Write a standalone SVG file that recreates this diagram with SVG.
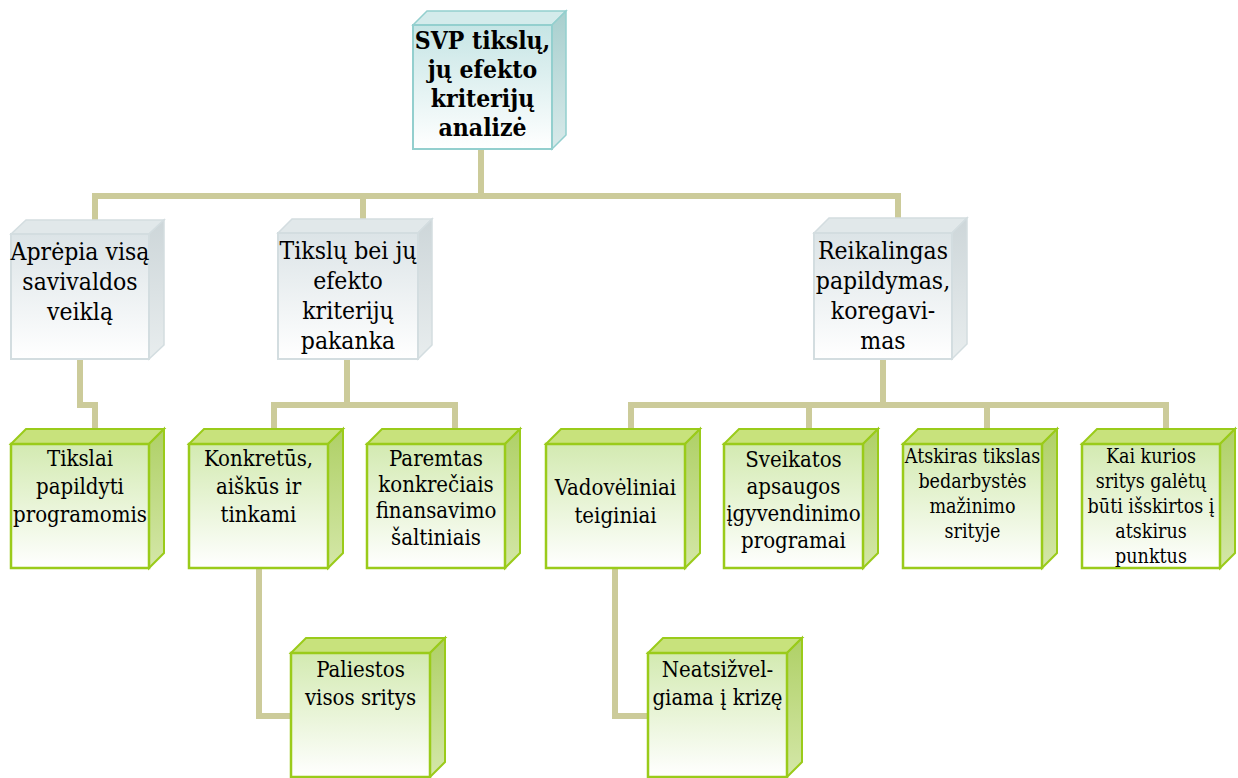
<svg xmlns="http://www.w3.org/2000/svg" width="1238" height="778" viewBox="0 0 1238 778">
  <defs>
    <linearGradient id="gFrontCyan" x1="0" y1="0" x2="0" y2="1">
      <stop offset="0" stop-color="#c6e5e5"/>
      <stop offset="1" stop-color="#ffffff"/>
    </linearGradient>
    <linearGradient id="gSideCyan" x1="0" y1="0" x2="0" y2="1">
      <stop offset="0" stop-color="#a8cfce"/>
      <stop offset="1" stop-color="#d8eaea"/>
    </linearGradient>
    <linearGradient id="gFrontGray" x1="0" y1="0" x2="0" y2="1">
      <stop offset="0" stop-color="#dce4e7"/>
      <stop offset="1" stop-color="#ffffff"/>
    </linearGradient>
    <linearGradient id="gSideGray" x1="0" y1="0" x2="0" y2="1">
      <stop offset="0" stop-color="#cdd6d9"/>
      <stop offset="1" stop-color="#e8edee"/>
    </linearGradient>
    <linearGradient id="gFrontGreen" x1="0" y1="0" x2="0" y2="1">
      <stop offset="0" stop-color="#d3eab1"/>
      <stop offset="1" stop-color="#ffffff"/>
    </linearGradient>
    <linearGradient id="gSideGreen" x1="0" y1="0" x2="0" y2="1">
      <stop offset="0" stop-color="#afd066"/>
      <stop offset="1" stop-color="#d4e7a8"/>
    </linearGradient>
  </defs>
  <style>
    .wire { fill: none; stroke: #cccb9a; stroke-width: 6; stroke-linecap: square; stroke-linejoin: miter; }
    .cyan .front { fill: url(#gFrontCyan); stroke: #93cfce; stroke-width: 2; }
    .cyan .top { fill: #d4ebeb; stroke: #93cfce; stroke-width: 1.5; }
    .cyan .side { fill: url(#gSideCyan); stroke: #93cfce; stroke-width: 1.5; }
    .gray .front { fill: url(#gFrontGray); stroke: #d3dde0; stroke-width: 2; }
    .gray .top { fill: #e1e8ea; stroke: #d3dde0; stroke-width: 1.5; }
    .gray .side { fill: url(#gSideGray); stroke: #d3dde0; stroke-width: 1.5; }
    .green .front { fill: url(#gFrontGreen); stroke: #9acb1a; stroke-width: 2.5; }
    .green .top { fill: #c8e27c; stroke: #9acb1a; stroke-width: 2; }
    .green .side { fill: url(#gSideGreen); stroke: #9acb1a; stroke-width: 2; }
    .lbl { fill: #000; text-anchor: middle; font-stretch: condensed; }
  </style>

  <!-- connectors -->
  <g id="connectors">
    <path class="wire" d="M481 152 V196"/>
    <path class="wire" d="M95 196 H898"/>
    <path class="wire" d="M95 196 V219"/>
    <path class="wire" d="M363 196 V218"/>
    <path class="wire" d="M898 196 V218"/>
    <path class="wire" d="M80 361 V405 H95 V428"/>
    <path class="wire" d="M347 361 V405"/>
    <path class="wire" d="M274 405 H455"/>
    <path class="wire" d="M274 405 V428"/>
    <path class="wire" d="M455 405 V428"/>
    <path class="wire" d="M883 361 V405"/>
    <path class="wire" d="M631 405 H1166"/>
    <path class="wire" d="M631 405 V428"/>
    <path class="wire" d="M809 405 V428"/>
    <path class="wire" d="M987 405 V428"/>
    <path class="wire" d="M1166 405 V428"/>
    <path class="wire" d="M259 570 V716 H290"/>
    <path class="wire" d="M615 570 V716 H647"/>
  </g>

  <g font-family="'DejaVu Serif Condensed', 'DejaVu Serif', serif">
  <!-- root -->
  <g id="root" class="cyan">
    <polygon class="top" points="413,25 427,11 566,11 552,25"/>
    <polygon class="side" points="552,25 566,11 566,135 552,149"/>
    <rect class="front" x="413" y="25" width="139" height="124"/>
    <text class="lbl" font-size="24.5" font-weight="bold"><tspan x="482.5" y="49">SVP tikslų,</tspan><tspan x="482.5" y="78">jų efekto</tspan><tspan x="482.5" y="107">kriterijų</tspan><tspan x="482.5" y="136">analizė</tspan></text>
  </g>

  <!-- second level -->
  <g id="n-apima" class="gray">
    <polygon class="top" points="11,234 26,220 164,220 149,234"/>
    <polygon class="side" points="149,234 164,220 164,345 149,359"/>
    <rect class="front" x="11" y="234" width="138" height="125"/>
    <text class="lbl" font-size="24.5"><tspan x="80" y="260">Aprėpia visą</tspan><tspan x="80" y="290">savivaldos</tspan><tspan x="80" y="320">veiklą</tspan></text>
  </g>

  <g id="n-pakanka" class="gray">
    <polygon class="top" points="278,233 292,219 432,219 418,233"/>
    <polygon class="side" points="418,233 432,219 432,345 418,359"/>
    <rect class="front" x="278" y="233" width="140" height="126"/>
    <text class="lbl" font-size="24.5"><tspan x="348" y="259">Tikslų bei jų</tspan><tspan x="348" y="289">efekto</tspan><tspan x="348" y="319">kriterijų</tspan><tspan x="348" y="349">pakanka</tspan></text>
  </g>

  <g id="n-reikalingas" class="gray">
    <polygon class="top" points="814,233 829,218 967,218 952,233"/>
    <polygon class="side" points="952,233 967,218 967,344 952,359"/>
    <rect class="front" x="814" y="233" width="138" height="126"/>
    <text class="lbl" font-size="24.5"><tspan x="883" y="259">Reikalingas</tspan><tspan x="883" y="289">papildymas,</tspan><tspan x="883" y="319">koregavi-</tspan><tspan x="883" y="349">mas</tspan></text>
  </g>

  <!-- third level -->
  <g id="n-tikslai" class="green">
    <polygon class="top" points="11,444 26,429 164,429 149,444"/>
    <polygon class="side" points="149,444 164,429 164,553 149,568"/>
    <rect class="front" x="11" y="444" width="138" height="124"/>
    <text class="lbl" font-size="22"><tspan x="80" y="466">Tikslai</tspan><tspan x="80" y="494">papildyti</tspan><tspan x="80" y="522">programomis</tspan></text>
  </g>

  <g id="n-konkretus" class="green">
    <polygon class="top" points="189,444 204,429 343,429 328,444"/>
    <polygon class="side" points="328,444 343,429 343,553 328,568"/>
    <rect class="front" x="189" y="444" width="139" height="124"/>
    <text class="lbl" font-size="22"><tspan x="258.5" y="466">Konkretūs,</tspan><tspan x="258.5" y="494">aiškūs ir</tspan><tspan x="258.5" y="522">tinkami</tspan></text>
  </g>

  <g id="n-paremtas" class="green">
    <polygon class="top" points="367,444 382,429 520,429 505,444"/>
    <polygon class="side" points="505,444 520,429 520,553 505,568"/>
    <rect class="front" x="367" y="444" width="138" height="124"/>
    <text class="lbl" font-size="22"><tspan x="436" y="466">Paremtas</tspan><tspan x="436" y="492">konkrečiais</tspan><tspan x="436" y="518">finansavimo</tspan><tspan x="436" y="545">šaltiniais</tspan></text>
  </g>

  <g id="n-vadoveliniai" class="green">
    <polygon class="top" points="546,444 561,429 700,429 685,444"/>
    <polygon class="side" points="685,444 700,429 700,553 685,568"/>
    <rect class="front" x="546" y="444" width="139" height="124"/>
    <text class="lbl" font-size="22"><tspan x="615.5" y="495">Vadovėliniai</tspan><tspan x="615.5" y="523">teiginiai</tspan></text>
  </g>

  <g id="n-sveikatos" class="green">
    <polygon class="top" points="724,444 739,429 878,429 863,444"/>
    <polygon class="side" points="863,444 878,429 878,553 863,568"/>
    <rect class="front" x="724" y="444" width="139" height="124"/>
    <text class="lbl" font-size="22"><tspan x="793.5" y="467">Sveikatos</tspan><tspan x="793.5" y="494">apsaugos</tspan><tspan x="793.5" y="521">įgyvendinimo</tspan><tspan x="793.5" y="548">programai</tspan></text>
  </g>

  <g id="n-atskiras" class="green">
    <polygon class="top" points="903,444 918,429 1057,429 1042,444"/>
    <polygon class="side" points="1042,444 1057,429 1057,553 1042,568"/>
    <rect class="front" x="903" y="444" width="139" height="124"/>
    <text class="lbl" font-size="19.5"><tspan x="972.5" y="463">Atskiras tikslas</tspan><tspan x="972.5" y="488">bedarbystės</tspan><tspan x="972.5" y="513">mažinimo</tspan><tspan x="972.5" y="538">srityje</tspan></text>
  </g>

  <g id="n-kaikurios" class="green">
    <polygon class="top" points="1082,444 1097,429 1235,429 1220,444"/>
    <polygon class="side" points="1220,444 1235,429 1235,553 1220,568"/>
    <rect class="front" x="1082" y="444" width="138" height="124"/>
    <text class="lbl" font-size="19.5"><tspan x="1151" y="463">Kai kurios</tspan><tspan x="1151" y="488">sritys galėtų</tspan><tspan x="1151" y="513">būti išskirtos į</tspan><tspan x="1151" y="538">atskirus</tspan><tspan x="1151" y="563">punktus</tspan></text>
  </g>

  <!-- fourth level -->
  <g id="n-paliestos" class="green">
    <polygon class="top" points="291,653 306,638 445,638 430,653"/>
    <polygon class="side" points="430,653 445,638 445,762 430,777"/>
    <rect class="front" x="291" y="653" width="139" height="124"/>
    <text class="lbl" font-size="22"><tspan x="360.5" y="677">Paliestos</tspan><tspan x="360.5" y="705">visos sritys</tspan></text>
  </g>

  <g id="n-neatsizvelgiama" class="green">
    <polygon class="top" points="648,653 663,638 802,638 787,653"/>
    <polygon class="side" points="787,653 802,638 802,762 787,777"/>
    <rect class="front" x="648" y="653" width="139" height="124"/>
    <text class="lbl" font-size="22"><tspan x="717.5" y="677">Neatsižvel-</tspan><tspan x="717.5" y="705">giama į krizę</tspan></text>
  </g>
  </g>
</svg>
